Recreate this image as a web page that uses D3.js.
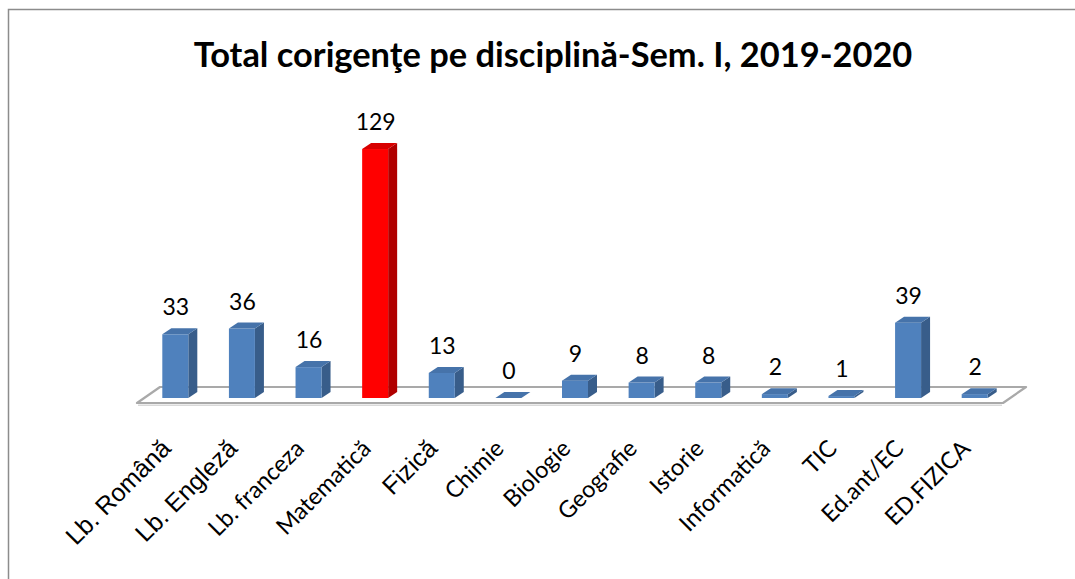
<!DOCTYPE html>
<html>
<head>
<meta charset="utf-8">
<script src="https://cdn.jsdelivr.net/npm/d3@7"></script>
<style>
html,body{margin:0;padding:0;background:#fff;}
svg{display:block;}
</style>
</head>
<body>
<svg id="chart" width="1075" height="579"></svg>
<script>
// ---- data ----
const title = "Total corigenţe pe disciplină-Sem. I, 2019-2020";
const categories = ["Lb. Română","Lb. Engleză","Lb. franceza","Matematică","Fizică","Chimie","Biologie","Geografie","Istorie","Informatică","TIC","Ed.ant/EC","ED.FIZICA"];
const values = [33,36,16,129,13,0,9,8,8,2,1,39,2];
const highlighted = ["Matematică"];
// label fonts (style): Arial-like for some, Calibri-like for others
const arialLabels = ["Lb. Română","Lb. Engleză","Fizică"];

const svg = d3.select("#chart");
const W = 1075, H = 579;

// frame
svg.append("path")
  .attr("d", `M8.5,${H+2} L8.5,9.5 L${W+2},9.5`)
  .attr("fill","none").attr("stroke","#8c8c8c").attr("stroke-width",1.5);

// geometry
const floorFrontY = 403, floorDX = 23, floorDY = -16;
const x = d3.scaleBand().domain(categories).range([137, 1003]).paddingInner(0).paddingOuter(0);
const baseY = 398;            // bar base (front) y
const pxPerUnit = 1.93;
const y = d3.scaleLinear().domain([0, 140]).range([baseY, baseY - 140*pxPerUnit]);
const barW = 26, depthX = 9, depthY = -6, baseShift = 5;

// floor
const x0 = x.range()[0], x1 = x.range()[1];
svg.append("path")
  .attr("d", `M${x0},${floorFrontY} L${x1},${floorFrontY} L${x1+floorDX},${floorFrontY+floorDY} L${x0+floorDX},${floorFrontY+floorDY} Z`)
  .attr("fill","#fff").attr("stroke","#a9a9a9").attr("stroke-width",2.2).attr("stroke-linejoin","round");
svg.append("line")
  .attr("x1",x0+1).attr("x2",x1-1).attr("y1",floorFrontY+2.2).attr("y2",floorFrontY+2.2)
  .attr("stroke","#d9d9d9").attr("stroke-width",1.4);

const colors = {
  normal: {front:"#4f81bd", side:"#385d8a", top:"#4673aa"},
  hi:     {front:"#ff0000", side:"#b00000", top:"#d80000"}
};

const g = svg.append("g");
categories.forEach((c,i)=>{
  const v = values[i];
  const col = highlighted.includes(c) ? colors.hi : colors.normal;
  const cx = x(c) + x.bandwidth()/2 + baseShift;
  const l = cx - barW/2, r = cx + barW/2;
  const t = y(v), b = y(0);
  g.append("path")
    .attr("d",`M${r},${b} L${r+depthX},${b+depthY} L${r+depthX},${t+depthY} L${r},${t} Z`)
    .attr("fill",col.side);
  g.append("rect").attr("x",l).attr("y",t).attr("width",barW).attr("height",Math.max(0,b-t))
    .attr("fill",col.front);
  g.append("path")
    .attr("d",`M${l},${t} L${r},${t} L${r+depthX},${t+depthY} L${l+depthX},${t+depthY} Z`)
    .attr("fill",col.top);
  g.append("text")
    .attr("x",cx+0.5).attr("y",t-19)
    .attr("text-anchor","middle")
    .attr("font-family","Lato, 'Open Sans', sans-serif")
    .attr("font-size",23)
    .attr("fill","#000")
    .text(v);
});

// category labels
const lab = svg.append("g");
categories.forEach((c)=>{
  const cx = x(c) + x.bandwidth()/2 + baseShift;
  const isArial = arialLabels.includes(c);
  lab.append("text")
    .attr("transform",`translate(${cx-3},${450}) rotate(-45)`)
    .attr("text-anchor","end")
    .attr("font-family", isArial ? "Liberation Sans, Arial, sans-serif" : "Lato, Open Sans, sans-serif")
    .attr("font-size", isArial ? 25 : 23.5)
    .attr("fill","#000")
    .text(c);
});

// title
const tt = svg.append("text")
  .attr("x",553).attr("y",67)
  .attr("text-anchor","middle")
  .attr("font-family","Lato, 'Open Sans', sans-serif")
  .attr("font-weight","bold")
  .attr("font-size",31)
  .attr("fill","#000")
  .text(title);
const targetW = 719;
const w0 = tt.node().getComputedTextLength();
tt.attr("font-size", 31*targetW/w0);
</script>
</body>
</html>
